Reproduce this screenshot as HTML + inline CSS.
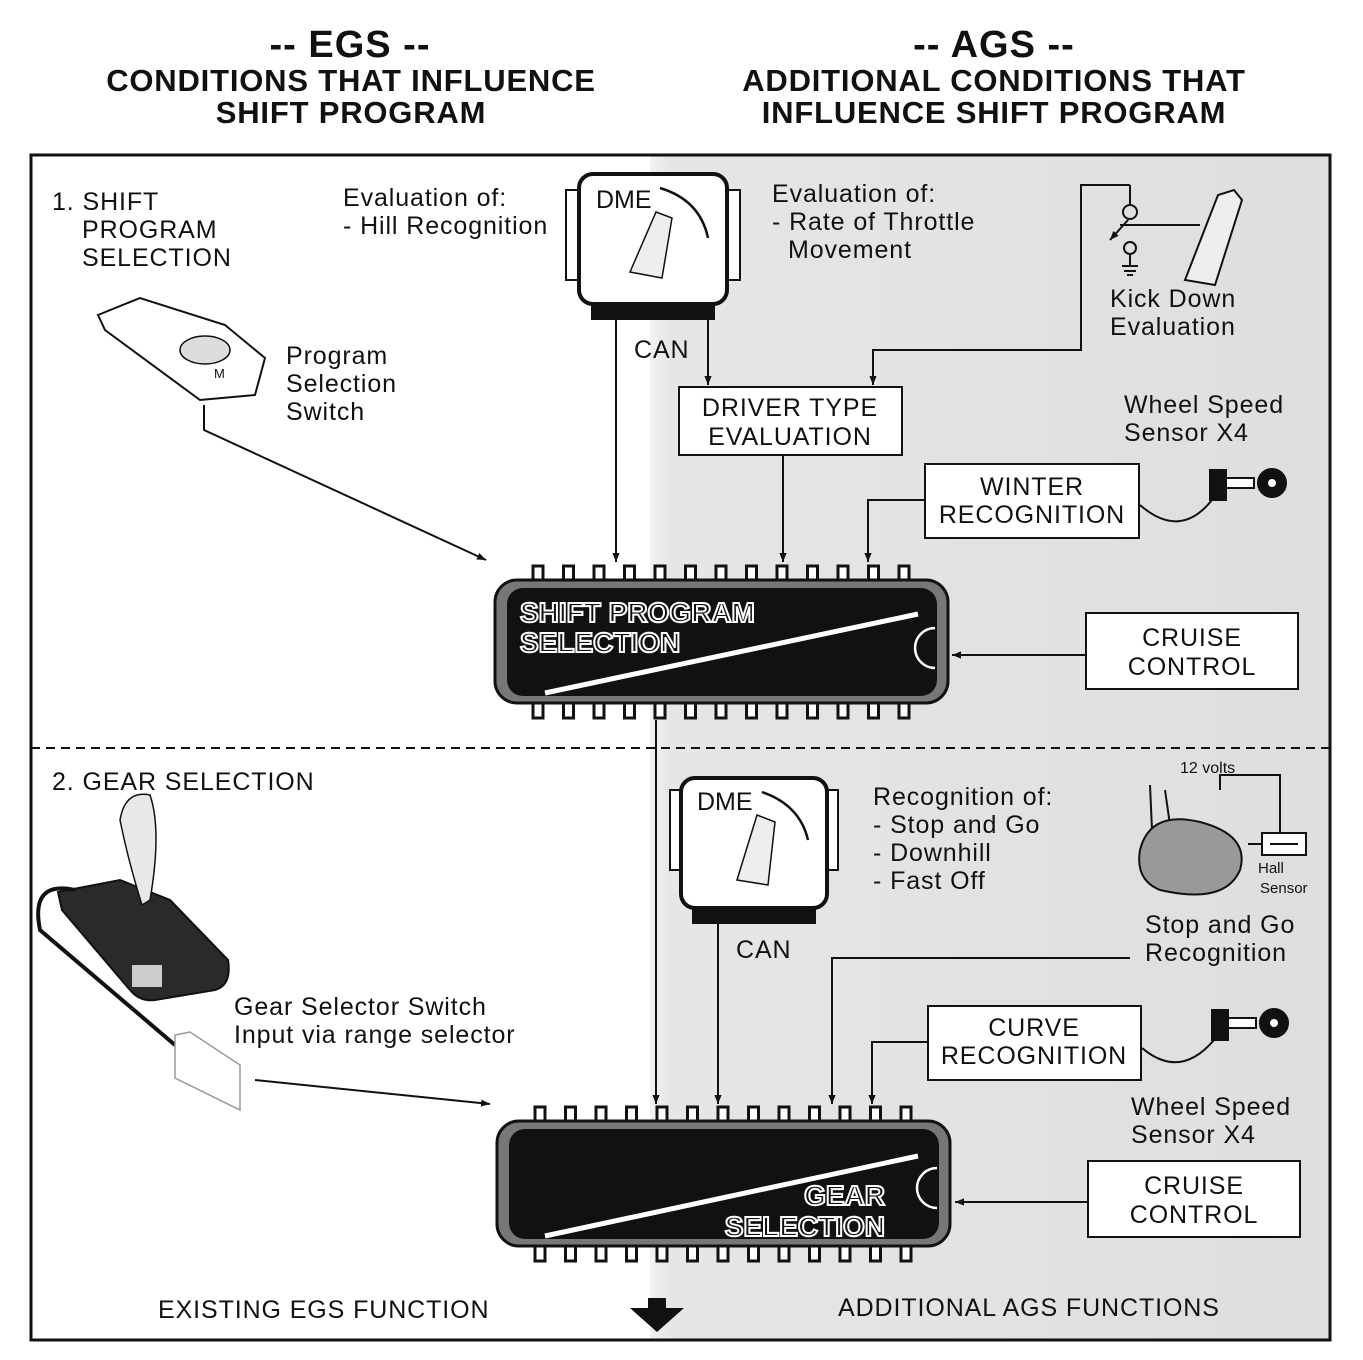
<!DOCTYPE html>
<html><head><meta charset="utf-8"><style>
html,body{margin:0;padding:0;background:#fff}
svg{display:block}
text{font-family:"Liberation Sans",Arial,sans-serif;fill:#111}
.b text{font-size:25px;letter-spacing:0.9px}
</style></head><body>
<svg width="1363" height="1360" viewBox="0 0 1363 1360" xmlns="http://www.w3.org/2000/svg">
<defs>
<linearGradient id="bg" x1="0" x2="1" y1="0" y2="0">
<stop offset="0" stop-color="#f2f2f2"/><stop offset="0.03" stop-color="#e6e6e6"/><stop offset="1" stop-color="#dedede"/>
</linearGradient>
<marker id="ar" viewBox="0 0 10 10" refX="10" refY="5" markerWidth="9" markerHeight="9" orient="auto" markerUnits="userSpaceOnUse"><path d="M0,1 L10,5 L0,9 z" fill="#111"/></marker>
<g id="pinsT"><rect x="-5" y="0" width="10" height="18" fill="#fff" stroke="#111" stroke-width="3"/></g>
</defs>

<g font-weight="bold" text-anchor="middle">
<text x="350" y="57" font-size="38" letter-spacing="1">-- EGS --</text>
<text x="351" y="91" font-size="31" letter-spacing="0.8">CONDITIONS THAT INFLUENCE</text>
<text x="351" y="123" font-size="31" letter-spacing="0.8">SHIFT PROGRAM</text>
<text x="994" y="57" font-size="38" letter-spacing="1">-- AGS --</text>
<text x="994" y="91" font-size="31" letter-spacing="0.8">ADDITIONAL CONDITIONS THAT</text>
<text x="994" y="123" font-size="31" letter-spacing="0.8">INFLUENCE SHIFT PROGRAM</text>
</g>

<rect x="650" y="155" width="680" height="1185" fill="url(#bg)"/>
<rect x="31" y="155" width="1299" height="1185" fill="none" stroke="#111" stroke-width="3"/>
<line x1="31" y1="748" x2="1330" y2="748" stroke="#111" stroke-width="2" stroke-dasharray="9,6"/>

<g class="b">
<text x="52" y="210">1. SHIFT</text><text x="82" y="238">PROGRAM</text><text x="82" y="266">SELECTION</text>
<text x="343" y="206">Evaluation of:</text><text x="343" y="234">- Hill Recognition</text>
<text x="772" y="202">Evaluation of:</text><text x="772" y="230">- Rate of Throttle</text><text x="788" y="258">Movement</text>
<text x="1110" y="307">Kick Down</text><text x="1110" y="335">Evaluation</text>
<text x="286" y="364">Program</text><text x="286" y="392">Selection</text><text x="286" y="420">Switch</text>
<text x="634" y="358">CAN</text>
<text x="1124" y="413">Wheel Speed</text><text x="1124" y="441">Sensor X4</text>
<text x="52" y="790">2. GEAR SELECTION</text>
<text x="873" y="805">Recognition of:</text><text x="873" y="833">- Stop and Go</text><text x="873" y="861">- Downhill</text><text x="873" y="889">- Fast Off</text>
<text x="736" y="958">CAN</text>
<text x="1145" y="933">Stop and Go</text><text x="1145" y="961">Recognition</text>
<text x="234" y="1015">Gear Selector Switch</text><text x="234" y="1043">Input via range selector</text>
<text x="1131" y="1115">Wheel Speed</text><text x="1131" y="1143">Sensor X4</text>
<text x="158" y="1318">EXISTING EGS FUNCTION</text>
<text x="838" y="1316">ADDITIONAL AGS FUNCTIONS</text>
</g>
<text x="1180" y="773" font-size="16">12 volts</text>
<text x="1258" y="873" font-size="15">Hall</text><text x="1260" y="893" font-size="15">Sensor</text>

<g fill="#fff" stroke="#111" stroke-width="2">
<rect x="679" y="387" width="223" height="68"/>
<rect x="925" y="464" width="214" height="74"/>
<rect x="1086" y="613" width="212" height="76"/>
<rect x="928" y="1006" width="213" height="74"/>
<rect x="1088" y="1161" width="212" height="76"/>
</g>
<g class="b" text-anchor="middle">
<text x="790" y="416">DRIVER TYPE</text><text x="790" y="445">EVALUATION</text>
<text x="1032" y="495">WINTER</text><text x="1032" y="523">RECOGNITION</text>
<text x="1192" y="646">CRUISE</text><text x="1192" y="675">CONTROL</text>
<text x="1034" y="1036">CURVE</text><text x="1034" y="1064">RECOGNITION</text>
<text x="1194" y="1194">CRUISE</text><text x="1194" y="1223">CONTROL</text>
</g>

<g stroke="#111" fill="#fff">
<rect x="566" y="190" width="18" height="90" stroke-width="2"/>
<rect x="722" y="190" width="18" height="90" stroke-width="2"/>
<rect x="579" y="174" width="148" height="130" rx="14" stroke-width="4"/>
<rect x="591" y="304" width="124" height="16" fill="#111" stroke="none"/>
<path d="M630,272 L656,212 L672,218 L662,278 Z" fill="#eee" stroke-width="1.5"/>
<path d="M660,188 Q700,200 708,238" fill="none" stroke-width="2.5"/>
</g>
<text x="596" y="208" font-size="25">DME</text>
<g stroke="#111" fill="#fff">
<rect x="670" y="790" width="16" height="80" stroke-width="2"/>
<rect x="822" y="790" width="16" height="80" stroke-width="2"/>
<rect x="681" y="778" width="146" height="130" rx="14" stroke-width="4"/>
<rect x="692" y="908" width="124" height="16" fill="#111" stroke="none"/>
<path d="M737,880 L757,815 L775,822 L768,885 Z" fill="#eee" stroke-width="1.5"/>
<path d="M762,792 Q800,805 808,840" fill="none" stroke-width="2.5"/>
</g>
<text x="697" y="810" font-size="25">DME</text>

<g stroke="#111" stroke-width="2" fill="none" marker-end="url(#ar)">
<line x1="616" y1="320" x2="616" y2="562"/>
<line x1="708" y1="320" x2="708" y2="385"/>
<line x1="783" y1="455" x2="783" y2="562"/>
<path d="M1130,185 L1081,185 L1081,350 L873,350 L873,385"/>
<path d="M925,500 L868,500 L868,562"/>
<path d="M204,405 L204,430 L486,560"/>
<path d="M1086,655 L952,655"/>
<path d="M656,720 L656,1104"/>
<line x1="718" y1="924" x2="718" y2="1104"/>
<path d="M1130,958 L832,958 L832,1104"/>
<path d="M928,1042 L872,1042 L872,1104"/>
<path d="M255,1080 L490,1104"/>
<path d="M1088,1202 L955,1202"/>
</g>
<g stroke="#111" stroke-width="2" fill="none">
<path d="M1130,185 L1130,205"/>
<circle cx="1130" cy="212" r="7"/>
<path d="M1128,220 L1110,240" marker-end="url(#ar)"/>
<path d="M1120,225 L1200,225"/>
<circle cx="1130" cy="248" r="6"/>
<path d="M1130,254 L1130,265 M1122,266 L1138,266 M1124,271 L1136,271 M1127,275 L1133,275"/>
<path d="M1140,505 Q1180,540 1212,500"/>
<path d="M1142,1048 Q1180,1080 1214,1040"/>
<path d="M1220,790 L1220,775 L1280,775 L1280,833"/>
</g>
<path d="M1185,280 L1218,195 L1234,190 L1242,200 L1215,285 Z" fill="#eee" stroke="#111" stroke-width="2"/>
<g stroke="#111" stroke-width="2">
<rect x="1210" y="470" width="16" height="30" fill="#111"/>
<rect x="1226" y="478" width="28" height="10" fill="#fff"/>
<circle cx="1272" cy="483" r="14" fill="#111"/><circle cx="1272" cy="483" r="5" fill="#fff"/>
<rect x="1212" y="1010" width="16" height="30" fill="#111"/>
<rect x="1228" y="1018" width="28" height="10" fill="#fff"/>
<circle cx="1274" cy="1023" r="14" fill="#111"/><circle cx="1274" cy="1023" r="5" fill="#fff"/>
<path d="M1150,785 L1152,830 M1165,790 L1170,825" fill="none"/>
<path d="M1140,850 Q1150,810 1200,822 Q1250,835 1240,870 Q1225,905 1160,890 Q1135,880 1140,850 Z" fill="#999"/>
<rect x="1262" y="833" width="44" height="22" fill="#fff"/>
<path d="M1248,844 L1262,844 M1270,844 L1298,844" fill="none"/>
</g>

<path d="M98,315 L140,298 L225,325 L265,358 L255,395 L200,400 L105,330 Z" fill="#fff" stroke="#111" stroke-width="2"/>
<ellipse cx="205" cy="350" rx="25" ry="14" fill="#ddd" stroke="#111" stroke-width="1.5"/>
<text x="214" y="378" font-size="13">M</text>
<!-- gear selector -->
<path d="M58,892 L120,880 L170,900 L228,960 Q232,985 215,990 L155,1000 Q140,1002 130,990 L62,910 Z" fill="#2a2a2a" stroke="#111" stroke-width="2"/>
<rect x="132" y="965" width="30" height="22" fill="#ccc"/>
<path d="M120,820 Q125,790 150,795 Q162,830 150,900 L142,905 Q128,860 120,820 Z" fill="#e8e8e8" stroke="#111" stroke-width="1.5"/>
<path d="M75,890 Q30,880 40,930 L175,1045" fill="none" stroke="#111" stroke-width="4"/>
<path d="M175,1035 L190,1032 L240,1065 L240,1110 L175,1078 Z" fill="#fff" stroke="#999" stroke-width="1.5"/>

<g>
<g transform="translate(538,566)"><use href="#pinsT"/><use href="#pinsT" x="30.5"/><use href="#pinsT" x="61"/><use href="#pinsT" x="91.5"/><use href="#pinsT" x="122"/><use href="#pinsT" x="152.5"/><use href="#pinsT" x="183"/><use href="#pinsT" x="213.5"/><use href="#pinsT" x="244"/><use href="#pinsT" x="274.5"/><use href="#pinsT" x="305"/><use href="#pinsT" x="335.5"/><use href="#pinsT" x="366"/></g>
<g transform="translate(538,700)"><use href="#pinsT"/><use href="#pinsT" x="30.5"/><use href="#pinsT" x="61"/><use href="#pinsT" x="91.5"/><use href="#pinsT" x="122"/><use href="#pinsT" x="152.5"/><use href="#pinsT" x="183"/><use href="#pinsT" x="213.5"/><use href="#pinsT" x="244"/><use href="#pinsT" x="274.5"/><use href="#pinsT" x="305"/><use href="#pinsT" x="335.5"/><use href="#pinsT" x="366"/></g>
<rect x="495" y="580" width="453" height="123" rx="22" fill="#777" stroke="#111" stroke-width="3"/>
<rect x="507" y="588" width="430" height="108" rx="16" fill="#111"/>
<line x1="545" y1="693" x2="918" y2="614" stroke="#fff" stroke-width="5"/>
<path d="M935,628 A18,18 0 0 0 935,668" fill="none" stroke="#fff" stroke-width="2.5"/>
<text x="520" y="622" font-size="28" font-weight="bold" style="fill:#111;stroke:#fff;stroke-width:2">SHIFT PROGRAM</text>
<text x="520" y="652" font-size="28" font-weight="bold" style="fill:#111;stroke:#fff;stroke-width:2">SELECTION</text>
</g>
<g>
<g transform="translate(540,1107)"><use href="#pinsT"/><use href="#pinsT" x="30.5"/><use href="#pinsT" x="61"/><use href="#pinsT" x="91.5"/><use href="#pinsT" x="122"/><use href="#pinsT" x="152.5"/><use href="#pinsT" x="183"/><use href="#pinsT" x="213.5"/><use href="#pinsT" x="244"/><use href="#pinsT" x="274.5"/><use href="#pinsT" x="305"/><use href="#pinsT" x="335.5"/><use href="#pinsT" x="366"/></g>
<g transform="translate(540,1243)"><use href="#pinsT"/><use href="#pinsT" x="30.5"/><use href="#pinsT" x="61"/><use href="#pinsT" x="91.5"/><use href="#pinsT" x="122"/><use href="#pinsT" x="152.5"/><use href="#pinsT" x="183"/><use href="#pinsT" x="213.5"/><use href="#pinsT" x="244"/><use href="#pinsT" x="274.5"/><use href="#pinsT" x="305"/><use href="#pinsT" x="335.5"/><use href="#pinsT" x="366"/></g>
<rect x="497" y="1121" width="453" height="125" rx="22" fill="#777" stroke="#111" stroke-width="3"/>
<rect x="509" y="1129" width="430" height="110" rx="16" fill="#111"/>
<line x1="545" y1="1236" x2="918" y2="1156" stroke="#fff" stroke-width="5"/>
<path d="M937,1168 A18,18 0 0 0 937,1208" fill="none" stroke="#fff" stroke-width="2.5"/>
<text x="885" y="1205" font-size="28" font-weight="bold" text-anchor="end" style="fill:#111;stroke:#fff;stroke-width:2">GEAR</text>
<text x="885" y="1236" font-size="28" font-weight="bold" text-anchor="end" style="fill:#111;stroke:#fff;stroke-width:2">SELECTION</text>
</g>
<path d="M648,1298 L666,1298 L666,1308 L684,1308 L657,1332 L630,1308 L648,1308 Z" fill="#111"/>
</svg>
</body></html>
